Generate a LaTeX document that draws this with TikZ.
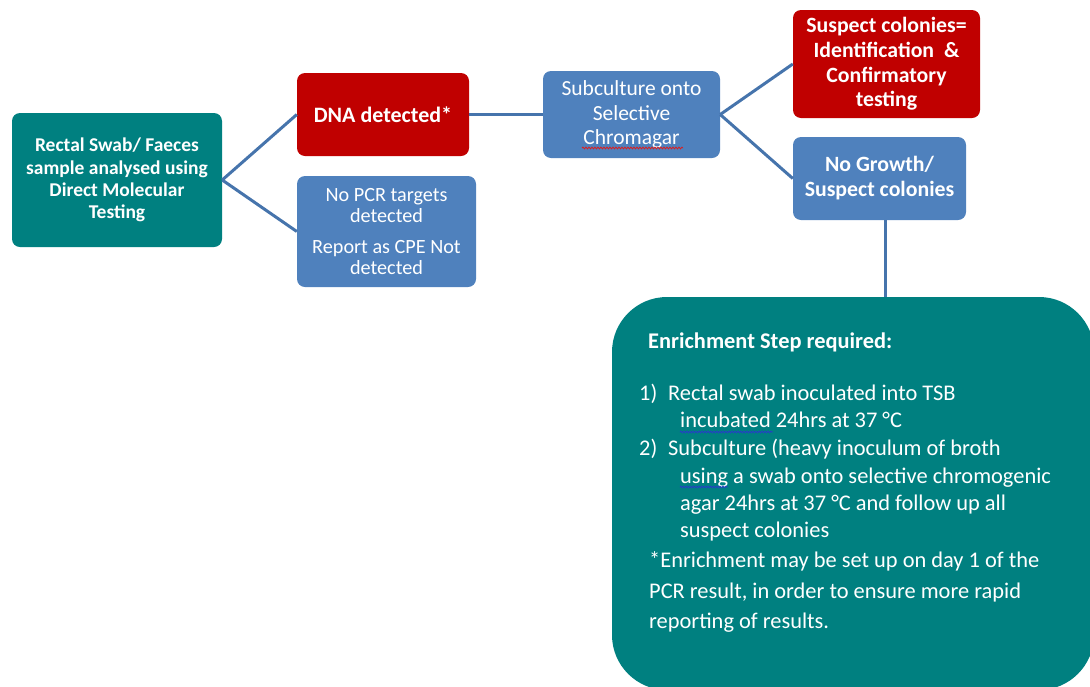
\documentclass[tikz,border=0pt]{standalone}
\usepackage{fontspec}
\setmainfont{Carlito}
\usetikzlibrary{decorations.pathmorphing}
\definecolor{tealbox}{RGB}{0,128,128}
\definecolor{redbox}{RGB}{192,0,0}
\definecolor{bluebox}{RGB}{79,129,189}
\definecolor{linkc}{RGB}{70,116,172}
\definecolor{wavyred}{RGB}{220,30,30}
\definecolor{wavyblue}{RGB}{40,60,200}
\tikzset{
  box/.style={rounded corners=8pt, inner sep=0pt, text=white, align=center,
    font=\fontsize{22}{24.5}\selectfont},
  link/.style={draw=linkc, line width=3pt},
  etext/.style={anchor=base west, inner sep=0pt, text=white, font=\fontsize{22.4}{26}\selectfont},
  wavy/.style={decorate, decoration={snake, amplitude=0.9pt, segment length=3pt}, line width=0.8pt}
}
\begin{document}
\begin{tikzpicture}[x=1pt,y=-1pt]
\useasboundingbox (0,0) rectangle (1090,686);
\node[box, fill=tealbox, minimum width=210pt, minimum height=134pt, font=\fontsize{19.5}{22.3}\selectfont\bfseries] (left) at (117,180)
  {Rectal Swab/ Faeces\\sample analysed using\\Direct Molecular\\Testing};
\node[box, fill=redbox, minimum width=172pt, minimum height=83pt, font=\fontsize{22}{24}\selectfont\bfseries] (dna) at (383,114.5)
  {DNA detected*};
\node[box, fill=bluebox, minimum width=179pt, minimum height=111pt, font=\fontsize{20.2}{21.2}\selectfont] (nopcr) at (386.5,231.5)
  {No PCR targets\\detected\\[10pt]Report as CPE Not\\detected};
\node[box, fill=bluebox, minimum width=177pt, minimum height=87pt, font=\fontsize{21.5}{24.5}\selectfont] (sub) at (631.5,114.5)
  {Subculture onto\\Selective\\Chromagar};
\node[box, fill=redbox, minimum width=187pt, minimum height=108pt, font=\fontsize{21.8}{24.7}\selectfont\bfseries] (susp) at (886.5,64)
  {Suspect colonies=\\Identification \ \&\\Confirmatory\\testing};
\node[box, fill=bluebox, minimum width=173pt, minimum height=83pt, font=\fontsize{21.8}{25}\selectfont\bfseries] (nogr) at (879.5,178.5)
  {No Growth/\\Suspect colonies};
\node[draw=none, fill=tealbox, rounded corners=55pt, minimum width=482pt, minimum height=393pt, inner sep=0pt] (enr) at (853,493.5) {};

\draw[link] (left.east) -- (dna.west);
\draw[link] (left.east) -- (nopcr.west);
\draw[link] (dna.east) -- (sub.west);
\draw[link] (sub.east) -- (susp.west);
\draw[link] (sub.east) -- (nogr.west);
\draw[link] ([xshift=5.5pt]nogr.south) -- ([xshift=5.5pt]nogr.south |- enr.north);

\node[etext, font=\fontsize{22.4}{26}\selectfont\bfseries] (e0) at (648,348) {Enrichment Step required:};
\node[etext] (n1) at (639,400) {1)};
\node[etext] (e1) at (668,400) {Rectal swab inoculated into TSB};
\node[etext] (e2) at (680,427) {incubated 24hrs at 37 °C};
\node[etext] (n2) at (639,455) {2)};
\node[etext] (e3) at (668,455) {Subculture (heavy inoculum of broth};
\node[etext] (e4) at (680,483) {using a swab onto selective chromogenic};
\node[etext] (e5) at (680,510) {agar 24hrs at 37 °C and follow up all};
\node[etext] (e6) at (680,537) {suspect colonies};
\node[etext] (e7) at (649,567) {*Enrichment may be set up on day 1 of the};
\node[etext] (e8) at (649,598) {PCR result, in order to ensure more rapid};
\node[etext] (e9) at (649,628) {reporting of results.};

\draw[wavy, draw=wavyred] (582,148) -- (683,148);
\draw[wavy, draw=wavyblue] (680,432) -- (773,432);
\draw[wavy, draw=wavyblue] (680,487) -- (728,487);
\end{tikzpicture}
\end{document}
